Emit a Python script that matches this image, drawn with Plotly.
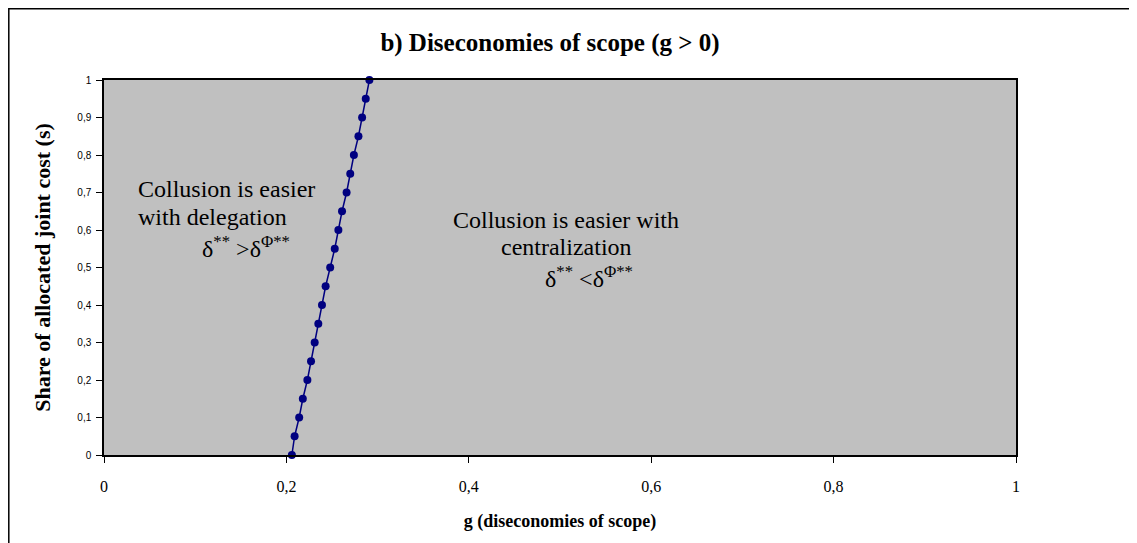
import plotly.graph_objects as go

# Data
share_s = [0.0, 0.05, 0.1, 0.15, 0.2, 0.25, 0.3, 0.35, 0.4, 0.45, 0.5,
           0.55, 0.6, 0.65, 0.7, 0.75, 0.8, 0.85, 0.9, 0.95, 1.0]
g_values = [0.206, 0.209, 0.214, 0.218, 0.223, 0.227, 0.231, 0.235, 0.239, 0.243, 0.248,
            0.253, 0.257, 0.261, 0.266, 0.270, 0.274, 0.279, 0.283, 0.287, 0.291]
x_ticks = [0, 0.2, 0.4, 0.6, 0.8, 1]
y_ticks = [0, 0.1, 0.2, 0.3, 0.4, 0.5, 0.6, 0.7, 0.8, 0.9, 1]

W, H = 1137, 543
OFF = 8  # page offset of the figure inside the browser window
SL, SR, ST, SB = 104, 1016, 80, 455  # plot area on screen
PW, PH = SR - SL, SB - ST
L, T = SL - OFF, ST - OFF
R = W - (SR - OFF)
B = H - (SB - OFF)

def px_x(p):
    return (p - SL) / PW

def px_y(p):
    return (SB - p) / PH

serif = "Liberation Serif, Times New Roman, serif"
sans = "Liberation Sans, Arial, sans-serif"

fig = go.Figure()
fig.add_trace(go.Scatter(
    x=g_values, y=share_s, mode="lines+markers",
    line=dict(color="#000080", width=1.5),
    marker=dict(color="#000080", size=8),
    cliponaxis=False, showlegend=False, hoverinfo="x+y"))

fig.update_layout(
    width=W, height=H,
    margin=dict(l=L, r=R, t=T, b=B, autoexpand=False),
    paper_bgcolor="white", plot_bgcolor="#C0C0C0",
    separators=", ",
    showlegend=False,
    title=dict(text="<b>b) Diseconomies of scope (g > 0)</b>",
               font=dict(family=serif, size=25, color="black"),
               x=px_x(550), xref="paper", xanchor="center",
               y=1 - (42 - OFF) / H, yref="container", yanchor="middle"),
    xaxis=dict(range=[0, 1], tickvals=x_ticks, showgrid=False, zeroline=False,
               showline=True, linecolor="black", linewidth=1.5, mirror=True,
               ticks="outside", ticklen=6, tickcolor="black",
               tickfont=dict(family=serif, size=16, color="black"),
               ticklabelstandoff=10,
               title=dict(text="<b>g (diseconomies of scope)</b>",
                          font=dict(family=serif, size=18, color="black"),
                          standoff=20)),
    yaxis=dict(range=[0, 1], tickvals=y_ticks, showgrid=False, zeroline=False,
               showline=True, linecolor="black", linewidth=1.5, mirror=True,
               ticks="outside", ticklen=6, tickcolor="black",
               tickfont=dict(family=sans, size=10, color="black"),
               ticklabelstandoff=3,
               title=dict(text="<b>Share of allocated joint cost (s)</b>",
                          font=dict(family=serif, size=22, color="black"),
                          standoff=21)),
)

# outer frame
fig.add_shape(type="rect", xref="paper", yref="paper",
              x0=px_x(OFF + 0.8), x1=px_x(W + 20), y0=px_y(H + 20), y1=px_y(OFF + 0.8),
              line=dict(color="black", width=1.5), fillcolor="rgba(0,0,0,0)",
              layer="below")

ann_font = dict(family=serif, size=24, color="black")

def label(text, x, y, anchor):
    fig.add_annotation(xref="paper", yref="paper", x=px_x(x), y=px_y(y),
                       xanchor=anchor, yanchor="middle", showarrow=False,
                       text=text, font=ann_font)

label("Collusion is easier", 136, 189, "left")
label("with delegation", 136, 217, "left")
label("δ<sup>**</sup> >δ<sup>Φ**</sup>", 246, 247, "center")
label("Collusion is easier with", 566, 220, "center")
label("centralization", 566, 247, "center")
label("δ<sup>**</sup> <δ<sup>Φ**</sup>", 589, 277, "center")

fig.write_html("out.html")
